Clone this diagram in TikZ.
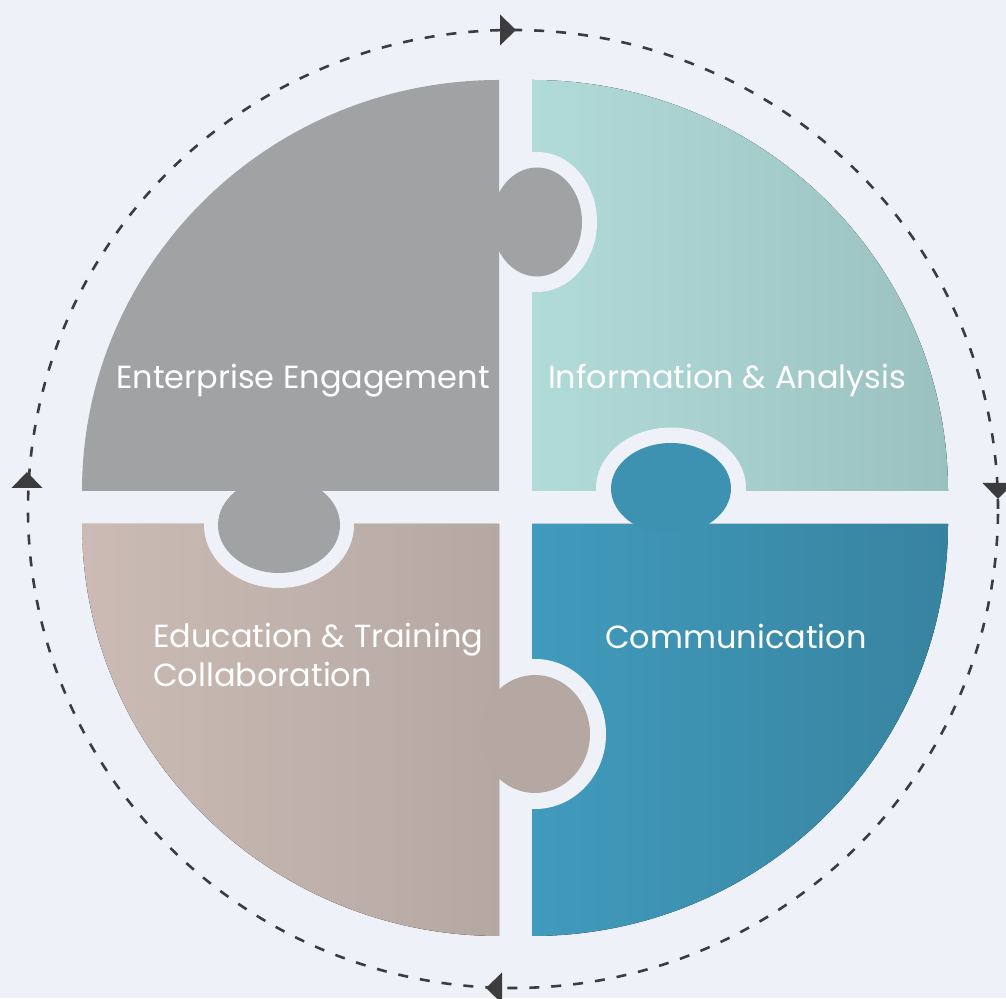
\documentclass[tikz,border=0pt]{standalone}
\usepackage{fontspec}
\setmainfont{Poppins}
\usepackage{tikz}
\usepackage{xcolor}
\definecolor{bgpaper}{RGB}{238,242,248}
\definecolor{stone}{RGB}{161,162,164}
\definecolor{mintL}{RGB}{177,219,217}
\definecolor{mintR}{RGB}{154,193,192}
\definecolor{oceanL}{RGB}{65,155,189}
\definecolor{oceanR}{RGB}{55,131,159}
\definecolor{oceanTab}{RGB}{61,146,178}
\definecolor{sandL}{RGB}{203,187,180}
\definecolor{sandR}{RGB}{181,168,163}
\definecolor{ink}{RGB}{60,60,62}

\begin{document}
\begin{tikzpicture}[x=1pt,y=1pt,
    quadtext/.style={text=white, font=\fontsize{32}{39}\selectfont, inner sep=0pt}]
        \clip (0,0) rectangle (1006,998);
        \fill[bgpaper] (0,0) rectangle (1006,998);
        % dashed ring with clockwise tips
        \draw[ink, line width=2.6, dash pattern=on 10 off 12] (513,489) ellipse [x radius=485, y radius=479];
        \foreach \px/\py/\ang in {508/968/0, 998/507/-90, 494/10/180, 27/518/90} {
            \coordinate (tip) at (\px,\py);
            \fill[ink, shift={(tip)}, rotate=\ang] (-8,-15.5) -- (8,0) -- (-8,15.5) -- cycle;
        }
        % top right piece and its two sockets
        \fill[left color=mintL, right color=mintR] (532,507) -- (532,918) arc[start angle=90, end angle=0, x radius=416, y radius=411] -- cycle;
        \fill[bgpaper] (537,776) ellipse [x radius=60, y radius=70];
        \fill[bgpaper] (671,509.5) ellipse [x radius=75, y radius=61];
        % bottom right piece
        \fill[left color=oceanL, right color=oceanR] (532,474) -- (948,474) arc[start angle=0, end angle=-90, x radius=416, y radius=412] -- cycle;
        \fill[bgpaper] (535,264) ellipse [x radius=71, y radius=75];
        \fill[oceanTab] (671,509.5) ellipse [x radius=60, y radius=45.5];
        % bottom left piece
        \fill[left color=sandL, right color=sandR] (499,474) -- (499,62) arc[start angle=270, end angle=180, x radius=417, y radius=412] -- cycle;
        \fill[bgpaper] (279,473) ellipse [x radius=75, y radius=63];
        \fill[sandR] (535,264) ellipse [x radius=55, y radius=59];
        % top left piece
        \fill[stone] (499,507) -- (82,507) arc[start angle=180, end angle=90, x radius=417, y radius=411] -- cycle;
        \fill[stone] (537,776) ellipse [x radius=45, y radius=54.5];
        \fill[stone] (279,473) ellipse [x radius=61, y radius=48];
        % labels
        \node[quadtext, anchor=base] (engage) at (303,609) {Enterprise Engagement};
        \node[quadtext, anchor=base] (inform) at (727,609) {Information \& Analysis};
        \node[quadtext, anchor=base] (commun) at (736,349) {Communication};
        \node[quadtext, anchor=base west, align=left] (educ) at (153,311) {Education \& Training\\Collaboration};
    \end{tikzpicture}
\end{document}
